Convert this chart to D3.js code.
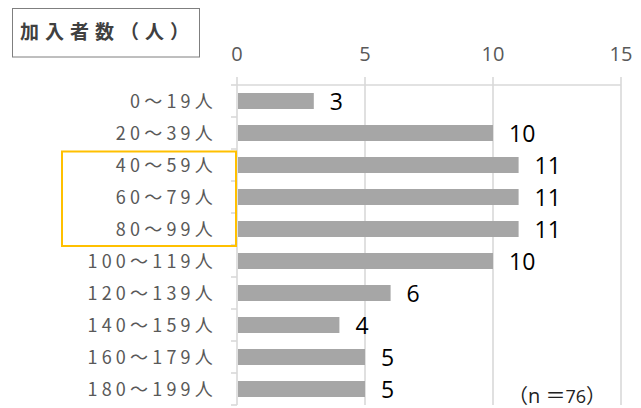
<!DOCTYPE html>
<html><head><meta charset="utf-8">
<script src="https://cdn.jsdelivr.net/npm/d3@7"></script>
<style>
html,body{margin:0;padding:0;background:#fff;}
svg{display:block;}
</style></head>
<body>
<script>
const categories = ["0～19人","20～39人","40～59人","60～79人","80～99人","100～119人","120～139人","140～159人","160～179人","180～199人"];
const values = [3,10,11,11,11,10,6,4,5,5];
const xTicks = [0,5,10,15];
const titleText = "加入者数（人）";
const noteText = ["（", "n ", "＝", "76", "）"];
const highlighted = ["40～59人","60～79人","80～99人"];

const W = 641, H = 408;
const svg = d3.select("body").append("svg").attr("width", W).attr("height", H);

const x = d3.scaleLinear().domain([0, 15]).range([237, 621]);
const y = d3.scaleBand().domain(categories).range([85, 405]).paddingInner(0.5).paddingOuter(0.25);

const grid = "#d9d9d9";
svg.append("g").selectAll("line").data(xTicks).join("line")
  .attr("x1", d => x(d)).attr("x2", d => x(d))
  .attr("y1", 77).attr("y2", 405)
  .attr("stroke", grid).attr("stroke-width", 1.6);
svg.append("line").attr("x1", x(0)).attr("x2", x(15)).attr("y1", 85).attr("y2", 85)
  .attr("stroke", grid).attr("stroke-width", 1.6);
const bounds = categories.map(c => y(c) - y.step()*0.25).concat([405]);
svg.append("g").selectAll("line").data(bounds).join("line")
  .attr("x1", 231).attr("x2", x(0))
  .attr("y1", d => d).attr("y2", d => d)
  .attr("stroke", grid).attr("stroke-width", 1.6);

svg.append("g").selectAll("text").data(xTicks).join("text")
  .attr("x", d => x(d)).attr("y", 61)
  .attr("text-anchor", "middle")
  .attr("font-family", "'Open Sans', sans-serif").attr("font-size", 20)
  .attr("fill", "#595959").text(d => d);

svg.append("g").selectAll("rect").data(values).join("rect")
  .attr("x", x(0) + 1).attr("y", (d,i) => y(categories[i]))
  .attr("width", d => x(d) - x(0) - 1).attr("height", y.bandwidth())
  .attr("fill", "#a6a6a6");

svg.append("g").selectAll("text").data(values).join("text")
  .attr("x", d => x(d) + 16).attr("y", (d,i) => y(categories[i]) + y.bandwidth()/2 + 9)
  .attr("font-family", "'Open Sans', sans-serif").attr("font-size", 23)
  .attr("fill", "#000").text(d => d);

svg.append("g").selectAll("text").data(categories).join("text")
  .attr("x", 217).attr("y", d => y(d) + y.bandwidth()/2 + 6.5)
  .attr("text-anchor", "end")
  .attr("font-family", "'Noto Sans CJK JP', 'Noto Sans', sans-serif").attr("font-size", 18)
  .attr("letter-spacing", 4.2)
  .attr("fill", "#595959").text(d => d);

// highlight box around the three highlighted rows
const hTop = y(highlighted[0]) - 5.5;
const hBot = y(highlighted[highlighted.length-1]) + y.bandwidth() + 9;
svg.append("rect").attr("x", 62).attr("y", hTop)
  .attr("width", 174).attr("height", hBot - hTop)
  .attr("fill", "none").attr("stroke", "#ffc000").attr("stroke-width", 2);

svg.append("rect").attr("x", 12.5).attr("y", 8.5).attr("width", 187).attr("height", 48.5)
  .attr("fill", "#fff").attr("stroke", "#7f7f7f").attr("stroke-width", 1);
svg.append("text").attr("x", 20).attr("y", 39)
  .attr("font-family", "'Noto Sans CJK JP', sans-serif").attr("font-size", 19)
  .attr("font-weight", "bold").attr("letter-spacing", 6)
  .attr("fill", "#404040").text(titleText);

const note = svg.append("text").attr("x", 606).attr("y", 403).attr("text-anchor", "end")
  .attr("font-family", "'Noto Sans CJK JP', sans-serif").attr("font-size", 20).attr("fill", "#222");
note.append("tspan").text(noteText[0]);
note.append("tspan").attr("font-family", "'Open Sans', sans-serif").text(noteText[1]);
note.append("tspan").text(noteText[2]);
note.append("tspan").attr("font-family", "'Open Sans', sans-serif").attr("font-size", 18).text(noteText[3]);
note.append("tspan").text(noteText[4]);
</script>
</body></html>
